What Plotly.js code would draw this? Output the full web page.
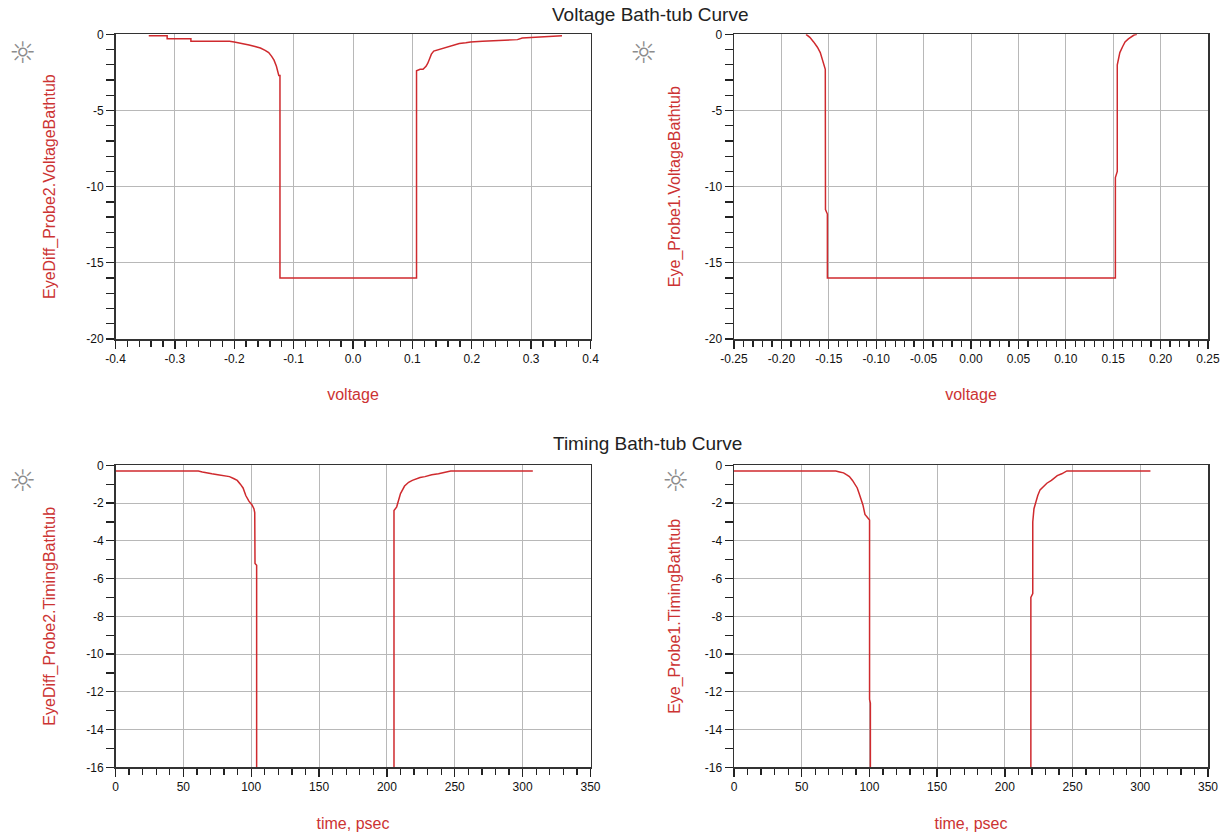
<!DOCTYPE html>
<html>
<head>
<meta charset="utf-8">
<script src="https://cdn.plot.ly/plotly-3.0.1.min.js"></script>
<style>html,body{margin:0;padding:0;background:#fff;}#chart{width:1220px;height:834px;}</style>
</head>
<body>
<div id="chart"></div>
<script>
// Top-left: EyeDiff_Probe2.VoltageBathtub vs voltage
const vdiffX = [-0.344, -0.313, -0.313, -0.273, -0.273, -0.208, -0.2, -0.185, -0.175, -0.165, -0.156, -0.148, -0.142, -0.137, -0.133, -0.129, -0.126, -0.125, -0.123, -0.123, 0.107, 0.107, 0.113, 0.118, 0.123, 0.126, 0.129, 0.132, 0.136, 0.145, 0.152, 0.16, 0.166, 0.179, 0.19, 0.198, 0.218, 0.245, 0.277, 0.285, 0.303, 0.323, 0.352];
const vdiffY = [-0.1, -0.1, -0.3, -0.3, -0.45, -0.45, -0.5, -0.6, -0.7, -0.8, -0.9, -1.05, -1.2, -1.45, -1.7, -2.1, -2.5, -2.7, -2.7, -16, -16, -2.4, -2.3, -2.3, -2.1, -1.9, -1.6, -1.3, -1.1, -1.0, -0.9, -0.8, -0.75, -0.6, -0.55, -0.5, -0.45, -0.4, -0.35, -0.25, -0.2, -0.15, -0.1];

// Top-right: Eye_Probe1.VoltageBathtub vs voltage
const vprobeX = [-0.174, -0.170, -0.166, -0.162, -0.159, -0.157, -0.155, -0.1537, -0.1535, -0.1515, -0.1515, 0.1523, 0.1523, 0.1543, 0.1543, 0.1555, 0.157, 0.16, 0.1625, 0.166, 0.169, 0.172, 0.175];
const vprobeY = [0, -0.2, -0.5, -0.85, -1.2, -1.6, -2.0, -2.3, -11.5, -11.8, -16, -16, -9.4, -9.0, -2.0, -1.6, -1.2, -0.8, -0.5, -0.3, -0.15, -0.05, 0];

// Bottom-left: EyeDiff_Probe2.TimingBathtub vs time, psec (null = curve leaves the plotted range)
const tdiffX = [0, 61, 64, 66.8, 71, 75.4, 80, 84, 87, 89.7, 92, 94, 96, 98.3, 100.6, 102, 102.6, 102.8, 104, 104, null, 205.2, 205.2, 207.2, 208.5, 210, 213, 216, 218.7, 224.4, 228, 233, 238, 244.5, 247, 307.5];
const tdiffY = [-0.3, -0.3, -0.35, -0.4, -0.45, -0.5, -0.55, -0.6, -0.7, -0.8, -1.0, -1.2, -1.6, -1.9, -2.1, -2.3, -2.5, -5.2, -5.3, -16, null, -16, -2.4, -2.2, -1.8, -1.5, -1.1, -0.9, -0.8, -0.65, -0.6, -0.5, -0.45, -0.35, -0.3, -0.3];

// Bottom-right: Eye_Probe1.TimingBathtub vs time, psec
const tprobeX = [0, 75.2, 78, 80.9, 83, 85.2, 87.5, 89.5, 91, 92.4, 94, 95.2, 96.7, 98.7, 100.1, 100.1, 100.7, 100.7, null, 219.2, 219.2, 220.6, 220.6, 221.5, 222.5, 224.3, 226, 228.6, 231, 234.4, 238.7, 242, 244.4, 245.8, 307.5];
const tprobeY = [-0.3, -0.3, -0.35, -0.4, -0.5, -0.6, -0.8, -1.0, -1.2, -1.5, -1.8, -2.1, -2.6, -2.8, -2.9, -12.4, -12.6, -16, null, -16, -7.0, -6.8, -3.0, -2.3, -2.0, -1.6, -1.3, -1.1, -0.95, -0.8, -0.55, -0.45, -0.35, -0.3, -0.3];

// Tick values and labels
const xTickV1 = [-0.4, -0.3, -0.2, -0.1, 0, 0.1, 0.2, 0.3, 0.4];
const xTickT1 = ["-0.4", "-0.3", "-0.2", "-0.1", "0.0", "0.1", "0.2", "0.3", "0.4"];
const xTickV2 = [-0.25, -0.2, -0.15, -0.1, -0.05, 0, 0.05, 0.1, 0.15, 0.2, 0.25];
const xTickT2 = ["-0.25", "-0.20", "-0.15", "-0.10", "-0.05", "0.00", "0.05", "0.10", "0.15", "0.20", "0.25"];
const xTickVT = [0, 50, 100, 150, 200, 250, 300, 350];
const xTickTT = ["0", "50", "100", "150", "200", "250", "300", "350"];
const yTickVV = [-20, -15, -10, -5, 0];
const yTickTV = ["-20", "-15", "-10", "-5", "0"];
const yTickVTm = [-16, -14, -12, -10, -8, -6, -4, -2, 0];
const yTickTTm = ["-16", "-14", "-12", "-10", "-8", "-6", "-4", "-2", "0"];

const sectionTitles = ["Voltage Bath-tub Curve", "Timing Bath-tub Curve"];
const yTitles = ["EyeDiff_Probe2.VoltageBathtub", "Eye_Probe1.VoltageBathtub", "EyeDiff_Probe2.TimingBathtub", "Eye_Probe1.TimingBathtub"];
const xTitles = ["voltage", "voltage", "time, psec", "time, psec"];

const W = 1220, H = 834;
const red = '#cf2a2e';
const titleRed = '#cc3333';
const lineStyle = {color: red, width: 1.5};
const FONT = 'Liberation Sans, Arial, sans-serif';

const traces = [
  {x: vdiffX, y: vdiffY, xaxis: 'x', yaxis: 'y', mode: 'lines', line: lineStyle, hoverinfo: 'skip', connectgaps: false},
  {x: vprobeX, y: vprobeY, xaxis: 'x2', yaxis: 'y2', mode: 'lines', line: lineStyle, hoverinfo: 'skip', connectgaps: false},
  {x: tdiffX, y: tdiffY, xaxis: 'x3', yaxis: 'y3', mode: 'lines', line: lineStyle, hoverinfo: 'skip', connectgaps: false},
  {x: tprobeX, y: tprobeY, xaxis: 'x4', yaxis: 'y4', mode: 'lines', line: lineStyle, hoverinfo: 'skip', connectgaps: false}
];

const tickFont = {family: FONT, size: 12, color: '#111'};
function xAx(anchor, dom, range, tv, tt, minorDt, title) {
  return {
    domain: dom, anchor: anchor, range: range, tickmode: 'array', tickvals: tv, ticktext: tt,
    ticklabeloverflow: 'allow',
    showgrid: true, gridcolor: '#b8b8b8', gridwidth: 1,
    showline: true, linecolor: '#333', linewidth: 1.5, mirror: true,
    ticks: 'outside', ticklen: 8, tickwidth: 1.3, tickcolor: '#222',
    minor: {dtick: minorDt, tick0: 0, ticks: 'outside', ticklen: 6, tickwidth: 1.3, tickcolor: '#222', showgrid: false},
    zeroline: false, tickfont: tickFont, fixedrange: true,
    title: {text: title, font: {family: FONT, size: 16, color: titleRed}, standoff: 24}
  };
}
function yAx(anchor, dom, range, tv, tt, minorDt, title, standoff) {
  return {
    domain: dom, anchor: anchor, range: range, tickmode: 'array', tickvals: tv, ticktext: tt,
    ticklabeloverflow: 'allow',
    showgrid: true, gridcolor: '#b8b8b8', gridwidth: 1,
    showline: true, linecolor: '#333', linewidth: 1.5, mirror: true,
    ticks: 'outside', ticklen: 8, tickwidth: 1.3, tickcolor: '#222',
    minor: {dtick: minorDt, tick0: 0, ticks: 'outside', ticklen: 8, tickwidth: 1.3, tickcolor: '#222', showgrid: false},
    zeroline: false, tickfont: tickFont, fixedrange: true,
    title: {text: title, font: {family: FONT, size: 16, color: titleRed}, standoff: standoff}
  };
}

const xL = [115.5 / W, 590.5 / W];
const xR = [734 / W, 1208 / W];
const yT = [1 - 339 / H, 1 - 34.3 / H];
const yB = [1 - 767.3 / H, 1 - 465.3 / H];

function star(px, py) {
  return {text: '☼', xref: 'paper', yref: 'paper', x: px / W, y: 1 - py / H, xanchor: 'center', yanchor: 'middle', showarrow: false, font: {family: 'DejaVu Sans', size: 30, color: '#8c8c8c'}};
}

const layout = {
  width: W, height: H,
  margin: {l: 0, r: 0, t: 0, b: 0},
  paper_bgcolor: '#fff', plot_bgcolor: '#fff',
  showlegend: false,
  font: {family: FONT},
  xaxis: xAx('y', xL, [-0.4, 0.4], xTickV1, xTickT1, 0.02, xTitles[0]),
  yaxis: yAx('x', yT, [-20, 0], yTickVV, yTickTV, 1, yTitles[0], 26),
  xaxis2: xAx('y2', xR, [-0.25, 0.25], xTickV2, xTickT2, 0.01, xTitles[1]),
  yaxis2: yAx('x2', yT, [-20, 0], yTickVV, yTickTV, 1, yTitles[1], 20),
  xaxis3: xAx('y3', xL, [0, 350], xTickVT, xTickTT, 10, xTitles[2]),
  yaxis3: yAx('x3', yB, [-16, 0], yTickVTm, yTickTTm, 1, yTitles[2], 26),
  xaxis4: xAx('y4', xR, [0, 350], xTickVT, xTickTT, 10, xTitles[3]),
  yaxis4: yAx('x4', yB, [-16, 0], yTickVTm, yTickTTm, 1, yTitles[3], 20),
  annotations: [
    {text: sectionTitles[0], xref: 'paper', yref: 'paper', x: 650 / W, y: 1 - 14 / H, xanchor: 'center', yanchor: 'middle', showarrow: false, font: {family: FONT, size: 19, color: '#222'}},
    {text: sectionTitles[1], xref: 'paper', yref: 'paper', x: 647 / W, y: 1 - 443 / H, xanchor: 'center', yanchor: 'middle', showarrow: false, font: {family: FONT, size: 19, color: '#222'}},
    star(22, 52), star(643, 52), star(22, 480), star(675, 480)
  ]
};

Plotly.newPlot('chart', traces, layout, {displayModeBar: false, staticPlot: true});
</script>
</body>
</html>
